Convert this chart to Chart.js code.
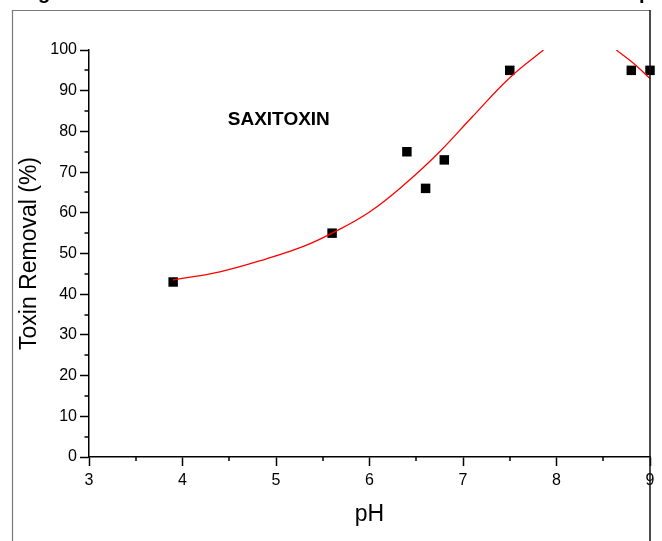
<!DOCTYPE html>
<html>
<head>
<meta charset="utf-8">
<script src="https://cdn.jsdelivr.net/npm/chart.js@4/dist/chart.umd.min.js"></script>
<style>
  html, body { margin: 0; padding: 0; background: #fff; }
  #wrap { width: 662px; height: 541px; }
</style>
</head>
<body>
<div id="wrap"><canvas id="chart" width="662" height="541"></canvas></div>
<script>
// Measured toxin removal at each pH
const phValues = [3.9, 5.6, 6.4, 6.6, 6.8, 7.5, 8.8, 9.0];
const removalValues = [43, 55, 75, 66, 73, 95, 95, 95];

// Fitted curve, rising branch (leaves the plot at 100 %)
const fitRisePh = [3.9, 4.4, 4.9, 5.3, 5.6, 6.0, 6.4, 6.75, 7.1, 7.5, 7.86];
const fitRiseRemoval = [43.5, 45.5, 48.7, 51.8, 55.0, 60.2, 67.5, 75.0, 83.6, 93.2, 100];

// Fitted curve, falling branch (re-enters the plot at 100 %)
const fitFallPh = [8.64, 8.82, 9.0];
const fitFallRemoval = [100, 96.8, 93.0];

// Axis ticks
const xMajorTicks = [3, 4, 5, 6, 7, 8, 9];
const xMinorTicks = [3.5, 4.5, 5.5, 6.5, 7.5, 8.5];
const yMajorTicks = [0, 10, 20, 30, 40, 50, 60, 70, 80, 90, 100];
const yMinorTicks = [5, 15, 25, 35, 45, 55, 65, 75, 85, 95];

const seriesLabel = 'SAXITOXIN';
const xTitle = 'pH';
const yTitle = 'Toxin Removal (%)';

const FONT = '"Liberation Sans", Arial, Helvetica, sans-serif';

function toXY(xs, ys) {
  return xs.map((x, i) => ({ x: x, y: ys[i] }));
}

// Page frame and the clipped caption line above it
const framePlugin = {
  id: 'frame',
  afterDraw(chart) {
    const ctx = chart.ctx;
    ctx.save();
    ctx.strokeStyle = '#7a7a7a';
    ctx.lineWidth = 1.2;
    ctx.beginPath();
    ctx.moveTo(12.5, 541);
    ctx.lineTo(12.5, 10.5);
    ctx.lineTo(650, 10.5);
    ctx.stroke();
    const xs = chart.scales.x;
    ctx.strokeStyle = '#111';
    ctx.lineWidth = 1.5;
    ctx.beginPath();
    ctx.moveTo(xs.right, 10);
    ctx.lineTo(xs.right, 541);
    ctx.stroke();
    ctx.fillStyle = '#000';
    ctx.font = 'bold 20px ' + FONT;
    ctx.textBaseline = 'alphabetic';
    ctx.textAlign = 'left';
    ctx.fillText('g', 38, -1);
    ctx.fillText('p', 639, -1.5);
    ctx.restore();
  }
};

// Minor tick marks drawn from the chart's own scales
const minorTickPlugin = {
  id: 'minorTicks',
  afterDraw(chart) {
    const ctx = chart.ctx;
    const xs = chart.scales.x, ys = chart.scales.y;
    ctx.save();
    ctx.strokeStyle = '#000';
    ctx.lineWidth = 1.5;
    ctx.beginPath();
    xMinorTicks.forEach(v => {
      const px = Math.round(xs.getPixelForValue(v));
      ctx.moveTo(px, xs.top);
      ctx.lineTo(px, xs.top + 4);
    });
    yMinorTicks.forEach(v => {
      const py = Math.round(ys.getPixelForValue(v));
      ctx.moveTo(ys.right, py);
      ctx.lineTo(ys.right - 4.5, py);
    });
    ctx.stroke();
    ctx.restore();
  }
};

// Series name written inside the plot
const seriesLabelPlugin = {
  id: 'seriesLabel',
  afterDatasetsDraw(chart) {
    const ctx = chart.ctx;
    const xs = chart.scales.x, ys = chart.scales.y;
    ctx.save();
    ctx.fillStyle = '#000';
    ctx.font = 'bold 19px ' + FONT;
    ctx.textAlign = 'center';
    ctx.textBaseline = 'middle';
    ctx.fillText(seriesLabel, xs.getPixelForValue(5.03), ys.getPixelForValue(82.8));
    ctx.restore();
  }
};

new Chart(document.getElementById('chart'), {
  type: 'scatter',
  data: {
    datasets: [
      {
        data: toXY(fitRisePh, fitRiseRemoval),
        showLine: true,
        borderColor: '#ff0000',
        borderWidth: 1.3,
        pointRadius: 0,
        tension: 0.4,
        order: 0
      },
      {
        data: toXY(fitFallPh, fitFallRemoval),
        showLine: true,
        borderColor: '#ff0000',
        borderWidth: 1.3,
        pointRadius: 0,
        tension: 0.4,
        order: 0
      },
      {
        data: toXY(phValues, removalValues),
        showLine: false,
        pointStyle: 'rect',
        pointRadius: 6.7,
        pointBackgroundColor: '#000',
        pointBorderWidth: 0,
        clip: false,
        order: 1
      }
    ]
  },
  options: {
    responsive: false,
    animation: false,
    devicePixelRatio: 1,
    layout: { padding: { top: 50, right: 12, left: 0, bottom: 0 } },
    plugins: {
      legend: { display: false },
      tooltip: { enabled: false }
    },
    scales: {
      x: {
        type: 'linear',
        min: 3,
        max: 9,
        afterBuildTicks: s => { s.ticks = xMajorTicks.map(v => ({ value: v })); },
        afterFit: s => { s.height = 84; },
        ticks: {
          color: '#000',
          font: { family: FONT, size: 16 },
          padding: 5,
          maxRotation: 0
        },
        grid: {
          drawOnChartArea: false,
          tickLength: 9,
          tickColor: '#000',
          tickWidth: 1.5
        },
        border: { color: '#000', width: 1.5 },
        title: {
          display: true,
          text: xTitle,
          color: '#000',
          font: { family: FONT, size: 23 },
          padding: { top: 0, bottom: 13 }
        }
      },
      y: {
        type: 'linear',
        min: 0,
        max: 100,
        afterBuildTicks: s => { s.ticks = yMajorTicks.map(v => ({ value: v })); },
        afterFit: s => { s.width = 89; },
        ticks: {
          color: '#000',
          font: { family: FONT, size: 16 },
          padding: 3
        },
        grid: {
          drawOnChartArea: false,
          tickLength: 9,
          tickColor: '#000',
          tickWidth: 1.5
        },
        border: { color: '#000', width: 1.5 },
        title: {
          display: true,
          text: yTitle,
          color: '#000',
          font: { family: FONT, size: 23 },
          padding: { top: 16, bottom: 0 }
        }
      }
    }
  },
  plugins: [framePlugin, minorTickPlugin, seriesLabelPlugin]
});
</script>
</body>
</html>
